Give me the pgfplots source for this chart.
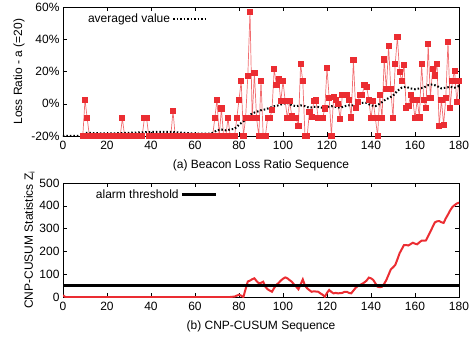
\documentclass[border=0pt]{standalone}
\usepackage{fontspec}
\setmainfont{Liberation Sans}
\usepackage{pgfplots}
\pgfplotsset{compat=1.18}
\definecolor{lred}{RGB}{235,45,50}
\pgfplotsset{every axis/.append style={font=\fontsize{12}{14}\selectfont},
  tick label style={font=\fontsize{12}{14}\selectfont},
  label style={font=\fontsize{12}{14}\selectfont},
  legend style={font=\fontsize{12}{14}\selectfont},
  xticklabel style={yshift=-2pt},
  /pgf/number format/assume math mode=true}
\begin{document}
\begin{tikzpicture}
\path[use as bounding box] (0,0) rectangle (469pt,-341pt);
\begin{axis}[at={(63pt,-7pt)}, anchor=north west, width=396pt, height=129pt, scale only axis,
 xmin=0, xmax=180, ymin=-20, ymax=60,
 xtick={0,20,...,180}, ytick={-20,0,20,40,60}, yticklabels={-20\%,0\%,20\%,40\%,60\%},
 tick align=inside, major tick length=4pt, tick style={black, thin},
 xlabel={(a) Beacon Loss Ratio Sequence}, ylabel={Loss Ratio - a (=20)},
 xlabel style={yshift=-3pt}, ylabel style={yshift=0pt},
 clip=false,
 legend style={draw=none, fill=none, at={(0.05,0.98)}, anchor=north west},
 legend plot pos=right,
 legend image code/.code={\draw[#1] (0.15cm,0cm) -- (1.35cm,0cm);}]
\addplot[forget plot, lred!70, line width=0.7pt, mark=square*, mark size=2.6pt,
  mark options={solid, fill=lred, draw=lred, line width=0pt}] table {
x y
9 -20
10 2.5
11 -9
12 -20
13 -20
14 -20
15 -20
16 -20
17 -20
18 -20
19 -20
20 -20
21 -20
22 -20
23 -20
24 -20
25 -20
26 -20
27 -9
28 -20
29 -20
30 -20
31 -20
32 -20
33 -20
34 -20
35 -20
36 -20
37 -9
38 -9
39 -20
40 -20
41 -20
42 -20
43 -20
44 -20
45 -20
46 -20
47 -20
48 -20
49 -20
50 -4.5
51 -20
52 -20
53 -20
54 -20
55 -20
56 -20
57 -20
58 -20
59 -20
60 -20
61 -20
62 -20
63 -20
64 -20
65 -20
66 -20
67 -20
68 -20
69 -9
70 2.5
71 -20
72 -3
73 -20
74 -20
75 -9
76 -20
77 -20
78 -20
79 -9
80 2.5
81 14
82 -20
83 -9
84 17
85 57
86 -9
87 19
88 -9
89 -20
90 14
91 -20
92 -20
93 -9
94 -9
95 -4
96 21.5
97 11.5
98 15
99 1.5
100 14
101 1.5
102 -9
103 1.5
104 -7.5
105 -9
106 -9
107 -14
108 24.5
109 14
110 -20
111 -20
112 -5
113 -8
114 1.5
115 2
116 -9
117 -9
118 -9
119 -3
120 22
121 3.5
122 -20
123 4
124 2.5
125 0
126 -9.5
127 5.5
128 5.5
129 5.5
130 2.5
131 -8.5
132 27
133 -2.5
134 1
135 5.5
136 5.5
137 11.5
138 10.5
139 2.5
140 -9
141 1.5
142 -9
143 -20
144 5.5
145 -9
146 27.5
147 9
148 36
149 9
150 -9
151 24.5
152 41.5
153 19.5
154 14
155 24
156 -2.5
157 -1.5
158 5.5
159 2.5
160 -9
161 2.5
162 -8.5
163 24.5
164 2.5
165 -2.5
166 37
167 3.5
168 21.5
169 17.5
170 24.5
171 -14
172 2.5
173 -13
174 3.5
175 38.5
176 -2.5
177 14
178 20.5
179 1
180 14
};
\addplot[black, line width=2pt, dash pattern=on 1.5pt off 2pt] table {
x y
0 -20
9 -20
10 -18
20 -18.5
30 -18
40 -17.5
50 -17.5
60 -18.5
67 -18.5
68 -18
70 -16.5
72 -16
74 -16.5
76 -16
78 -15.5
80 -13
82 -11
84 -8
86 -6
88 -5
90 -4
92 -3.5
94 -2.5
96 -1.5
98 -1
100 0
102 0.5
104 -1
106 -1.5
108 -1
110 -1.5
112 -2.5
114 -2
116 -2
118 -2.5
120 -2
122 -1.5
124 -2
126 -2.5
128 -1.5
130 -1
132 -1
134 0
136 0.5
138 0.5
140 -1
142 -1.5
144 0
146 2
148 3.5
150 5
152 8
154 10
156 10.5
158 9.5
160 9
162 9.5
164 10
166 11.5
168 12
170 11
172 9.5
174 10
176 10.5
178 10
180 11
};
\addlegendentry{averaged value}
\end{axis}
\begin{axis}[at={(63pt,-183pt)}, anchor=north west, width=396pt, height=114pt, scale only axis,
 xmin=0, xmax=180, ymin=0, ymax=500,
 xtick={0,20,...,180}, ytick={0,100,...,500},
 tick align=inside, major tick length=4pt, tick style={black, thin},
 xlabel={(b) CNP-CUSUM Sequence}, ylabel={CNP-CUSUM Statistics Z\textsubscript{i}},
 xlabel style={yshift=-3pt}, ylabel style={yshift=-2pt},
 legend style={draw=none, fill=none, at={(0.07,0.98)}, anchor=north west},
 legend plot pos=right,
 legend image code/.code={\draw[#1] (0cm,0cm) -- (1.2cm,0cm);}]
\addplot[forget plot, lred, line width=2pt] coordinates {
(0,8) (1,0) (76,0) (78,2) (80,10) (81,6) (82,0) (83,35) (84,68) (85,72) (86,78) (87,82) (88,70) (89,60) (90,62) (91,67) (92,45) (93,34) (94,28) (95,23) (96,40) (97,53) (98,62) (99,72) (100,80) (101,86) (102,82) (103,74) (104,67) (105,55) (106,45) (107,34) (108,55) (109,77) (110,50) (111,38) (112,30) (113,23) (114,25) (115,24) (116,23) (117,16) (118,10) (119,1) (120,18) (121,31) (122,22) (123,16) (124,18) (125,16) (126,17) (127,18) (128,23) (129,23) (130,18) (131,16) (132,28) (133,40) (134,48) (135,53) (136,58) (137,64) (138,72) (139,85) (140,82) (141,75) (142,60) (143,45) (144,43) (145,45) (146,58) (147,75) (148,98) (149,121) (150,130) (151,140) (152,165) (153,192) (154,210) (155,228) (156,228) (157,226) (158,232) (159,238) (160,234) (161,231) (162,240) (163,247) (164,247) (165,248) (166,268) (167,287) (168,307) (169,327) (170,332) (171,333) (172,328) (173,325) (174,345) (175,362) (176,380) (177,395) (178,403) (179,410) (180,414)
};
\addplot[black, line width=2.5pt] coordinates {(0,50) (180,50)};
\addlegendentry{alarm threshold}
\end{axis}
\end{tikzpicture}
\end{document}
